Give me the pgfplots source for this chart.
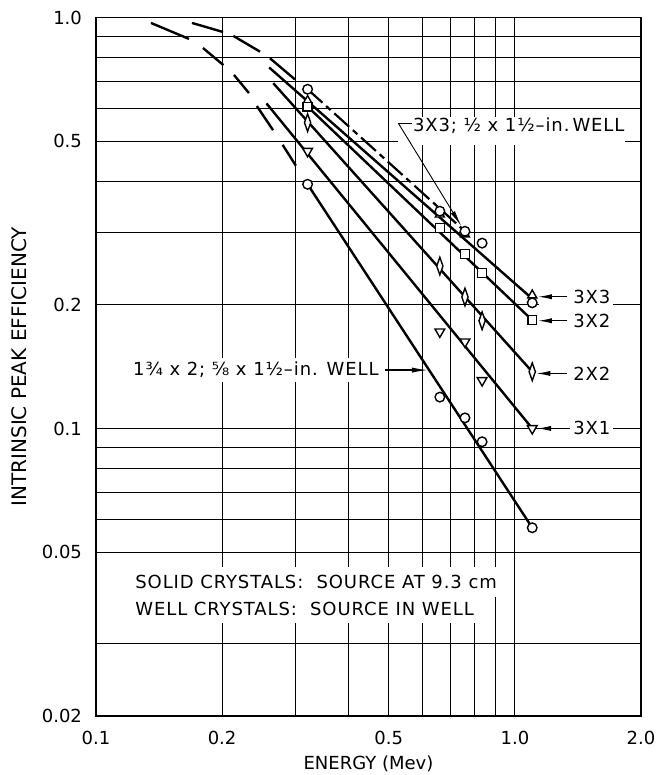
\documentclass[border=0pt]{standalone}
\usepackage{pgfplots}
\pgfplotsset{compat=1.18}
\usepackage{fontspec}
\setmainfont{DejaVu Sans}
\newfontfamily\spaced{DejaVu Sans}[LetterSpace=5]
\usetikzlibrary{arrows.meta}

\begin{document}
\begin{tikzpicture}[font=\fontsize{9}{11}\selectfont]
\begin{axis}[
  scale only axis, width=272.5pt, height=349.25pt,
  xmode=log, ymode=log,
  xmin=0.1, xmax=2, ymin=0.02, ymax=1,
  xtick={0.1,0.2,0.5,1,2}, xticklabels={0.1,0.2,0.5,1.0,2.0},
  ytick={0.02,0.05,0.1,0.2,0.5,1}, yticklabels={0.02,0.05,0.1,0.2,0.5,1.0},
  minor xtick={0.3,0.4,0.6,0.7,0.8,0.9},
  minor ytick={0.03,0.06,0.07,0.08,0.09,0.3,0.4,0.6,0.7,0.8,0.9},
  grid=both,
  major tick length=0pt, minor tick length=0pt,
  grid style={line width=0.45pt, black},
  major grid style={line width=0.45pt, black},
  minor grid style={line width=0.45pt, black},
  axis line style={line width=0.9pt},
  /pgf/number format/assume math mode=true,
  xticklabel style={yshift=-4pt},
  yticklabel style={xshift=-3.5pt},
  xlabel={ENERGY (Mev)},
  ylabel={INTRINSIC PEAK EFFICIENCY},
  xlabel style={at={(axis description cs:0.5,-0.0687)}, anchor=center},
  ylabel style={at={(axis description cs:-0.1413,0.5)}, anchor=center, font=\fontsize{10}{12}\selectfont},
  line/.style={black, line width=1.2pt, no marks},
  mk/.style={only marks, mark options={fill=white, draw=black, line width=0.7pt, solid}},
]
% solid lines
\addplot[line] coordinates {(0.259,0.756) (1.1,0.207)};
\addplot[line] coordinates {(0.32,0.607) (1.1,0.1836)};
\addplot[line] coordinates {(0.265,0.692) (1.1,0.1375)};
\addplot[line] coordinates {(0.2553,0.618) (1.1,0.1001)};
\addplot[line] coordinates {(0.32,0.393) (1.1,0.0574)};
% 3X3 well: dash-dot
\addplot[line, line width=1.1pt, dash pattern=on 10pt off 2.5pt on 3pt off 2.5pt] coordinates {(0.32,0.669) (0.76,0.302)};
% 3X3 well: long dashes at low energy
\addplot[line] coordinates {(0.1695,0.970) (0.201,0.922)};
\addplot[line] coordinates {(0.2127,0.902) (0.2463,0.826)};
\addplot[line] coordinates {(0.2602,0.796) (0.2985,0.707)};
% 1 3/4 x 2 well: long dashes at low energy
\addplot[line] coordinates {(0.1353,0.970) (0.1667,0.887)};
\addplot[line] coordinates {(0.1800,0.843) (0.2015,0.766)};
\addplot[line] coordinates {(0.2135,0.725) (0.2318,0.655)};
\addplot[line] coordinates {(0.2421,0.609) (0.2647,0.532)};
\addplot[line] coordinates {(0.2790,0.490) (0.3000,0.436)};
% markers
\addplot[mk, mark=triangle*, mark size=2.6pt] coordinates {(0.32,0.627) (0.662,0.332) (0.76,0.297) (1.1,0.2111)};
\addplot[mk, mark=*, mark size=2.4pt] coordinates {(0.32,0.669) (0.662,0.338) (0.76,0.302) (0.835,0.2826) (1.1,0.2023)
  (0.32,0.393) (0.662,0.1193) (0.76,0.1062) (0.835,0.0929) (1.1,0.0574)};
\addplot[mk, mark=square*, mark size=2.2pt] coordinates {(0.32,0.607) (0.662,0.3075) (0.76,0.266) (0.835,0.239) (1.1,0.1836)};
\addplot[only marks, mark=diamond*, mark size=2.6pt, mark options={fill=white, draw=black, line width=0.7pt, xscale=0.8, yscale=1.7}] coordinates {(0.32,0.555) (0.662,0.2485) (0.76,0.209) (0.835,0.183) (1.1,0.1375)};
\addplot[only marks, mark=triangle*, mark size=2.8pt, mark options={fill=white, draw=black, line width=0.7pt, rotate=180}] coordinates {(0.32,0.473) (0.662,0.172) (0.76,0.1626) (0.835,0.131) (1.1,0.1001)};

% label: 3X3; 1/2 x 1 1/2-in. WELL
\fill[white] (axis cs:0.527,0.490) rectangle (axis cs:1.83,0.573);
\draw[line width=0.5pt] (axis cs:0.567,0.553) -- (axis cs:0.527,0.553);
\draw[line width=0.45pt, -{Latex[length=8pt,width=2.4pt]}] (axis cs:0.527,0.553) -- (axis cs:0.745,0.311);
\node[anchor=west, inner sep=0pt] at (axis cs:0.57,0.5455) {\spaced 3X3; ½ x 1½–in.\,WELL};

% label: 1 3/4 x 2; 5/8 x 1 1/2-in. WELL
\node[anchor=east, fill=white, inner sep=2pt] at (axis cs:0.4842,0.1388) {\spaced 1¾ x 2; ⅝ x 1½–in. WELL};
\draw[line width=0.6pt, -{Latex[length=8pt,width=2.6pt]}] (axis cs:0.4895,0.1388) -- (axis cs:0.62,0.1388);

% right-hand labels
\fill[white] (axis cs:1.14,0.1975) rectangle (axis cs:1.36,0.2025);
\node[anchor=west, fill=white, inner sep=1.5pt] at (axis cs:1.353,0.2093) {\spaced 3X3};
\node[anchor=west, fill=white, inner sep=1.5pt] at (axis cs:1.353,0.183) {\spaced 3X2};
\node[anchor=west, fill=white, inner sep=1.5pt] at (axis cs:1.353,0.1362) {\spaced 2X2};
\node[anchor=west, fill=white, inner sep=1.5pt] at (axis cs:1.353,0.1001) {\spaced 3X1};
\draw[line width=0.6pt, -{Latex[length=7pt,width=2.6pt]}] (axis cs:1.331,0.2093) -- (axis cs:1.135,0.2093);
\draw[line width=0.6pt, -{Latex[length=7pt,width=2.6pt]}] (axis cs:1.331,0.183) -- (axis cs:1.135,0.183);
\draw[line width=0.6pt, -{Latex[length=7pt,width=2.6pt]}] (axis cs:1.331,0.1362) -- (axis cs:1.125,0.1362);
\draw[line width=0.6pt, -{Latex[length=7pt,width=2.6pt]}] (axis cs:1.331,0.1001) -- (axis cs:1.13,0.1001);

% note
\node[anchor=base west, fill=white, inner xsep=2pt, inner ysep=4pt] at (axis cs:0.1212,0.0409) {\spaced SOLID CRYSTALS:\ \ SOURCE AT 9.3 cm};
\node[anchor=base west, fill=white, inner xsep=2pt, inner ysep=4pt] at (axis cs:0.1212,0.03517) {\spaced WELL CRYSTALS:\ \ SOURCE IN WELL};
\end{axis}
\pgfresetboundingbox
\path[use as bounding box] (-48pt,-29.5pt) rectangle (279.5pt,358pt);
\end{tikzpicture}
\end{document}
